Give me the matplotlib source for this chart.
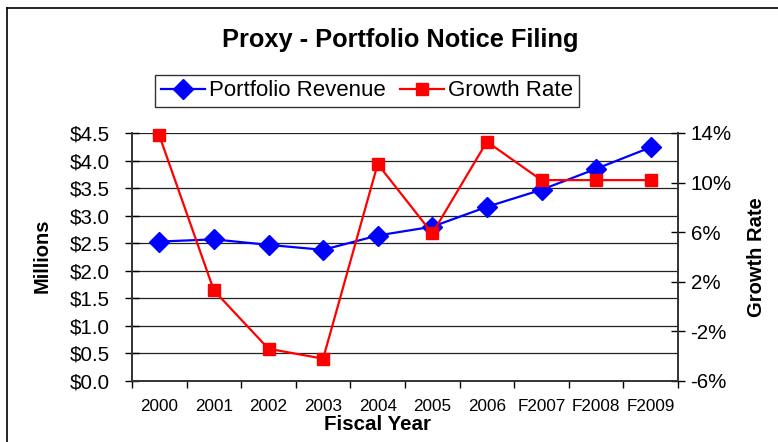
"""Proxy - Portfolio Notice Filing: revenue (left axis) vs growth rate (right axis)."""

import matplotlib

matplotlib.use("Agg")
import matplotlib.pyplot as plt
from matplotlib.lines import Line2D
from matplotlib.ticker import FuncFormatter, MultipleLocator, FixedLocator

plt.rcParams["font.family"] = ["Liberation Sans", "DejaVu Sans"]

years = ["2000", "2001", "2002", "2003", "2004", "2005", "2006",
         "F2007", "F2008", "F2009"]
revenue = [2.53, 2.57, 2.47, 2.38, 2.64, 2.80, 3.16, 3.47, 3.85, 4.24]  # $ millions
growth = [13.8, 1.3, -3.4, -4.2, 11.5, 5.9, 13.3, 10.2, 10.2, 10.2]    # percent
growth_ticks = [-6, -2, 2, 6, 10, 14]

W, H = 778, 442
fig = plt.figure(figsize=(W / 100, H / 100), dpi=100)
ax = fig.add_axes([132 / W, 1 - 381 / H, (678 - 132) / W, (381 - 133) / H])
ax2 = ax.twinx()

x = list(range(len(years)))
l1, = ax.plot(x, revenue, color="#0000FF", lw=1.6, marker="D", ms=10,
              label="Portfolio Revenue", zorder=3, clip_on=False)
l2, = ax2.plot(x, growth, color="#FF0000", lw=1.6, marker="s", ms=8.5,
               label="Growth Rate", zorder=3, clip_on=False)

ax.set_xlim(-0.5, len(years) - 0.5)
ax.set_ylim(0, 4.5)
ax2.set_ylim(-6, 14)

ax.yaxis.set_major_locator(MultipleLocator(0.5))
ax.yaxis.set_major_formatter(FuncFormatter(lambda v, _: f"${v:.1f}"))
ax2.yaxis.set_major_locator(FixedLocator(growth_ticks))
ax2.yaxis.set_major_formatter(FuncFormatter(lambda v, _: f"{v:.0f}%"))

# category boundaries carry the tick marks, labels sit at centres
ax.xaxis.set_major_locator(FixedLocator([i - 0.5 for i in range(len(years) + 1)]))
ax.xaxis.set_minor_locator(FixedLocator(x))
ax.set_xticklabels([], minor=False)
ax.set_xticklabels(years, minor=True)
ax.tick_params(axis="x", which="major", direction="out", length=5, width=1)
ax.tick_params(axis="x", which="minor", length=0, labelsize=12.3, pad=13)
ax.tick_params(axis="y", direction="inout", length=10, width=1, labelsize=14.8, pad=11)
ax2.tick_params(axis="y", direction="inout", length=10, width=1, labelsize=14.8, pad=4)

ax.grid(axis="y", color="#222222", lw=0.9)
ax.set_axisbelow(True)
for a in (ax, ax2):
    a.spines["top"].set_visible(False)
    for s in ("left", "right", "bottom"):
        a.spines[s].set_color("#333333")
        a.spines[s].set_linewidth(1.2)
ax2.patch.set_visible(False)
ax.set_zorder(0)
ax2.set_zorder(1)

fig.text(400 / W, 1 - 40 / H, "Proxy - Portfolio Notice Filing",
         ha="center", va="center", fontsize=18.3, fontweight="bold")
fig.text(377 / W, 1 - 425 / H, "Fiscal Year", ha="center", va="center",
         fontsize=14.8, fontweight="bold")
fig.text(42 / W, 1 - 256 / H, "Millions", ha="center", va="center",
         rotation=90, fontsize=14.5, fontweight="bold")
fig.text(757 / W, 1 - 257 / H, "Growth Rate", ha="center", va="center",
         rotation=90, fontsize=14.5, fontweight="bold")

leg = fig.legend([l1, l2], ["Portfolio Revenue", "Growth Rate"],
                 loc="center", bbox_to_anchor=(367 / W, 1 - 91 / H), ncol=2,
                 fontsize=16, frameon=True, fancybox=False, handlelength=2.0,
                 handletextpad=0.2, columnspacing=0.6, borderpad=0.25,
                 borderaxespad=0)
leg.get_frame().set_edgecolor("black")
leg.get_frame().set_linewidth(1.0)

# outer chart border (runs off the right and bottom of the image)
fig.add_artist(Line2D([7 / W, 7 / W], [1 - 8 / H, -0.1], color="black", lw=1.2))
fig.add_artist(Line2D([7 / W, 1.1], [1 - 8 / H, 1 - 8 / H], color="black", lw=1.2))

fig.savefig("out.png", dpi=100)
